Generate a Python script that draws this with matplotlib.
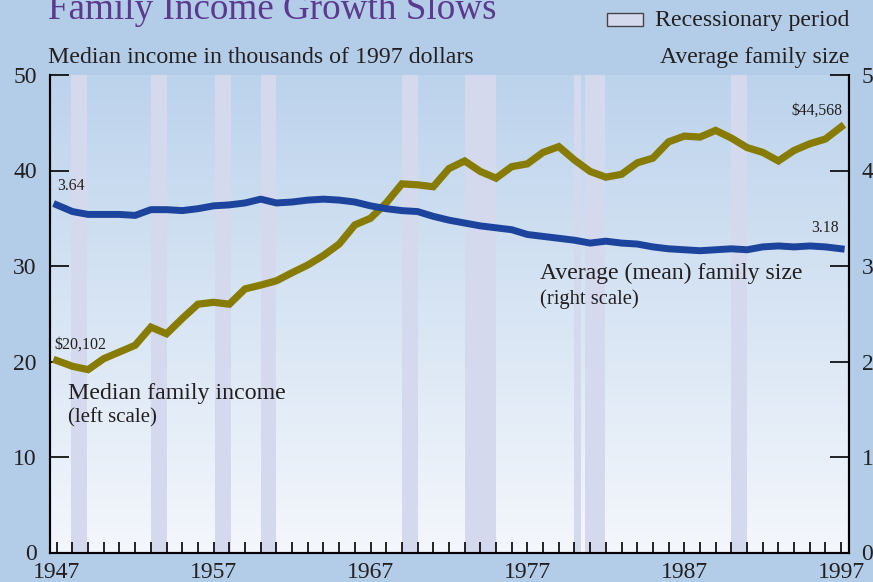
import numpy as np
import matplotlib
matplotlib.use("Agg")
import matplotlib.pyplot as plt
from matplotlib.patches import Rectangle
from matplotlib.colors import LinearSegmentedColormap

years = list(range(1947, 1998))
median_income = [20.102, 19.5, 19.15, 20.3, 21.0, 21.7, 23.6, 22.9, 24.5, 26.0,
                 26.2, 26.0, 27.6, 28.0, 28.45, 29.3, 30.1, 31.1, 32.3, 34.3,
                 35.0, 36.6, 38.6, 38.5, 38.3, 40.2, 41.0, 39.9, 39.2, 40.4,
                 40.7, 41.9, 42.5, 41.1, 39.9, 39.3, 39.6, 40.8, 41.3, 43.0,
                 43.6, 43.5, 44.2, 43.4, 42.4, 41.9, 41.0, 42.1, 42.8, 43.3,
                 44.568]
family_size = [3.64, 3.57, 3.54, 3.54, 3.54, 3.53, 3.59, 3.59, 3.58, 3.60,
               3.63, 3.64, 3.66, 3.70, 3.66, 3.67, 3.69, 3.70, 3.69, 3.67,
               3.63, 3.60, 3.58, 3.57, 3.52, 3.48, 3.45, 3.42, 3.40, 3.38,
               3.33, 3.31, 3.29, 3.27, 3.24, 3.26, 3.24, 3.23, 3.20, 3.18,
               3.17, 3.16, 3.17, 3.18, 3.17, 3.20, 3.21, 3.20, 3.21, 3.20,
               3.18]
recession_start = [1947.92, 1953.0, 1957.1, 1960.0, 1969.0, 1973.0, 1980.0, 1980.7, 1990.0]
recession_end = [1948.92, 1954.0, 1958.1, 1961.0, 1970.0, 1975.0, 1980.4, 1981.95, 1991.0]
xtick_labels = ["1947", "1957", "1967", "1977", "1987", "1997"]
left_ticks = [0, 10, 20, 30, 40, 50]
right_ticks = [0, 1, 2, 3, 4, 5]

SERIF = ["Liberation Serif", "DejaVu Serif"]
plt.rcParams['font.family'] = SERIF
TXT = "#231f20"
FIG_BG = "#b3cde8"
BAR_C = "#d4d9ee"
OLIVE = "#877b00"
BLUE = "#1c449c"

fig = plt.figure(figsize=(8.73, 5.82), dpi=100, facecolor=FIG_BG)
ax = fig.add_axes([50/873, 1 - 552.5/582, (849-50)/873, (552.5-75)/582])
ax.set_xlim(1946.57, 1997.5)
ax.set_ylim(0, 50)

# gradient background
cmap = LinearSegmentedColormap.from_list("g", ["#f4f7fc", "#bcd3ec"])
grad = np.linspace(0, 1, 256).reshape(-1, 1)
ax.imshow(grad, cmap=cmap, origin="lower", aspect="auto",
          extent=[0, 1, 0, 1], transform=ax.transAxes, zorder=0)

for s, e in zip(recession_start, recession_end):
    ax.axvspan(s, e, color=BAR_C, lw=0, zorder=1)

ax.plot(years, median_income, color=OLIVE, lw=5.2, zorder=3, solid_joinstyle="miter")
ax2 = ax.twinx()
ax2.set_ylim(0, 5)
ax2.plot(years, family_size, color=BLUE, lw=5.0, zorder=3)
ax2.set_xlim(ax.get_xlim())

for a in (ax, ax2):
    a.spines['top'].set_visible(False)
    for sp in ('left', 'right', 'bottom'):
        a.spines[sp].set_linewidth(1.5)
        a.spines[sp].set_color("black")

ax.set_xticks(years, minor=True)
ax.set_xticks([int(t) for t in xtick_labels])
ax.set_xticklabels(xtick_labels)
ax.tick_params(axis='x', which='both', direction='in', length=8, width=1.2, pad=7,
               labelsize=17, labelcolor=TXT)
ax.set_yticks(left_ticks)
ax.tick_params(axis='y', direction='in', length=14, width=1.2, pad=9.5,
               labelsize=17, labelcolor=TXT)
ax2.set_yticks(right_ticks)
ax2.tick_params(axis='y', direction='in', length=14, width=1.2, pad=9,
                labelsize=17, labelcolor=TXT)

# annotations
ax.text(1947.0, 38.0, "3.64", fontsize=11.3, color=TXT, ha="left", va="baseline")
ax.text(1946.85, 21.3, "$20,102", fontsize=11.5, color=TXT, ha="left", va="baseline")
ax.text(1997.05, 45.9, "$44,568", fontsize=11.3, color=TXT, ha="right", va="baseline")
ax.text(1996.85, 33.6, "3.18", fontsize=11.3, color=TXT, ha="right", va="baseline")
ax.text(1947.7, 16.1, "Median family income", fontsize=17.2, color=TXT, ha="left", va="baseline")
ax.text(1947.7, 13.6, "(left scale)", fontsize=15, color=TXT, ha="left", va="baseline")
ax.text(1977.8, 28.6, "Average (mean) family size", fontsize=17.1, color=TXT, ha="left", va="baseline")
ax.text(1977.8, 26.0, "(right scale)", fontsize=14.9, color=TXT, ha="left", va="baseline")

# header texts
fig.text(48/873, 1 - 19/582, "Family Income Growth Slows", fontsize=26.7, color="#5b3a8e",
         ha="left", va="baseline")
fig.text(48/873, 1 - 63/582, "Median income in thousands of 1997 dollars", fontsize=17.2,
         color=TXT, ha="left", va="baseline")
fig.text(849/873, 1 - 63/582, "Average family size", fontsize=17.1,
         color=TXT, ha="right", va="baseline")
fig.patches.append(Rectangle((607/873, 1 - 26/582), 36/873, 13/582, transform=fig.transFigure,
                             facecolor=BAR_C, edgecolor="#444444", lw=1.0))
fig.text(655/873, 1 - 26/582, "Recessionary period", fontsize=17.2, color=TXT,
         ha="left", va="baseline")

fig.savefig("out.png", dpi=100, facecolor=FIG_BG)
